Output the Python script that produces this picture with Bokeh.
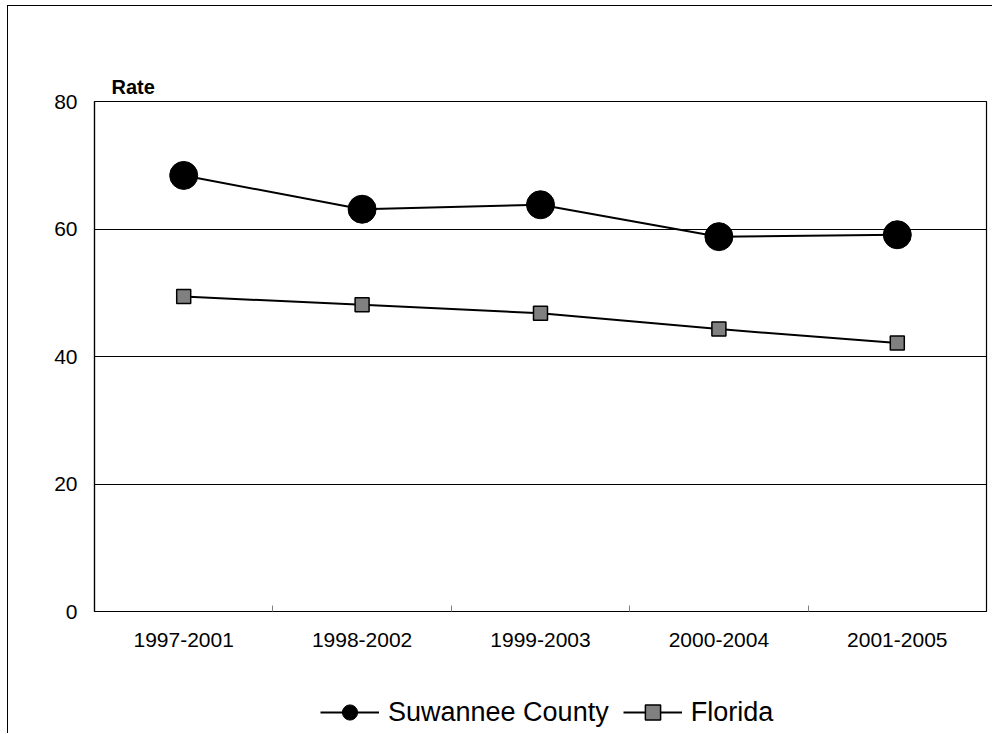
from bokeh.plotting import figure
from bokeh.layouts import column
from bokeh.models import (Range1d, LinearAxis, FixedTicker, Title,
                          Legend, LegendItem, ColumnDataSource)
from bokeh.embed import file_html
from bokeh.resources import INLINE

categories = ["1997-2001", "1998-2002", "1999-2003", "2000-2004", "2001-2005"]
suwannee = [68.4, 63.1, 63.8, 58.8, 59.1]
florida = [49.4, 48.1, 46.8, 44.3, 42.1]
y_ticks = [0, 20, 40, 60, 80]

FONT = "Liberation Sans"
n = len(categories)
centers = [i + 0.5 for i in range(n)]      # category slot centres on a 0..n axis

p = figure(
    x_range=Range1d(0, n),
    y_range=Range1d(0, 80),
    frame_width=892, frame_height=510,
    min_border_left=86, min_border_right=6, min_border_top=95, min_border_bottom=70,
    output_backend="svg", toolbar_location=None,
    x_axis_location=None, y_axis_location="left",
)
p.background_fill_color = "white"
p.border_fill_color = "white"
p.outline_line_color = "black"
p.outline_line_width = 1.2

# "Rate" caption above the frame
p.add_layout(Title(text="Rate", align="left", offset=17, standoff=8,
                   text_font=FONT, text_font_size="20px", text_font_style="bold",
                   text_color="black"), "above")

# y axis
ya = p.yaxis[0]
ya.ticker = FixedTicker(ticks=y_ticks)
ya.major_tick_in = 0
ya.major_tick_out = 0
ya.minor_tick_in = 0
ya.minor_tick_out = 0
ya.axis_line_color = "black"
ya.axis_line_width = 1.2
ya.major_label_text_font = FONT
ya.major_label_text_font_size = "21px"
ya.major_label_text_color = "black"
ya.major_label_standoff = 17

p.xgrid.visible = False
p.ygrid.grid_line_color = "black"
p.ygrid.grid_line_width = 1
p.ygrid.ticker = FixedTicker(ticks=y_ticks)

# category boundary tick marks
tick_axis = LinearAxis(ticker=FixedTicker(ticks=list(range(1, n))))
tick_axis.major_tick_in = 6
tick_axis.major_tick_out = 0
tick_axis.minor_tick_in = 0
tick_axis.minor_tick_out = 0
tick_axis.major_tick_line_color = "#808080"
tick_axis.major_tick_line_width = 1
tick_axis.axis_line_color = None
tick_axis.major_label_overrides = {i: "" for i in range(1, n)}
tick_axis.major_label_text_font_size = "1px"
tick_axis.major_label_standoff = 0
p.add_layout(tick_axis, "below")

# category labels
cat_axis = LinearAxis(ticker=FixedTicker(ticks=centers))
cat_axis.major_label_overrides = {c: lab for c, lab in zip(centers, categories)}
cat_axis.major_tick_in = 0
cat_axis.major_tick_out = 0
cat_axis.minor_tick_in = 0
cat_axis.minor_tick_out = 0
cat_axis.axis_line_color = None
cat_axis.major_label_text_font = FONT
cat_axis.major_label_text_font_size = "21px"
cat_axis.major_label_text_color = "black"
cat_axis.major_label_standoff = 21
p.add_layout(cat_axis, "below")

src = ColumnDataSource(dict(x=centers, s=suwannee, f=florida))

line_s = dict(line_color="black", line_width=2)
mark_s = dict(marker="circle", size=28, fill_color="black", line_color="black")
line_f = dict(line_color="black", line_width=2)
mark_f = dict(marker="square", size=14, fill_color="#808080", line_color="black", line_width=1.5)

p.line("x", "s", source=src, **line_s)
p.scatter("x", "s", source=src, **mark_s)
p.line("x", "f", source=src, **line_f)
p.scatter("x", "f", source=src, **mark_f)

# legend strip below the chart (its own small canvas so nothing clips it)
leg = figure(
    x_range=Range1d(0, n), y_range=Range1d(1000, 1001),
    width=984, height=52, min_border=0,
    output_backend="svg", toolbar_location=None,
    x_axis_location=None, y_axis_location=None,
)
leg.grid.visible = False
leg.outline_line_color = None
leg.background_fill_color = "white"
leg.border_fill_color = "white"
lr1 = leg.line("x", "s", source=src, **line_s)
mr1 = leg.scatter("x", "s", source=src, **mark_s)
lr2 = leg.line("x", "f", source=src, **line_f)
mr2 = leg.scatter("x", "f", source=src, **mark_f)

legend = Legend(
    items=[LegendItem(label="Suwannee County", renderers=[lr1, mr1]),
           LegendItem(label="Florida", renderers=[lr2, mr2])],
    orientation="horizontal",
    location=(226, 2),
    glyph_width=59, glyph_height=38,
    label_standoff=9, spacing=14, padding=0, margin=0,
    label_text_font=FONT, label_text_font_size="27px", label_text_color="black",
    border_line_color=None, background_fill_alpha=0,
)
leg.add_layout(legend, "center")

layout = column(p, leg, spacing=0)
layout.styles = {"border-left": "1px solid black", "border-top": "1px solid black",
                 "margin-left": "7px", "margin-top": "5px"}

open("out.html", "w").write(file_html(layout, INLINE))
